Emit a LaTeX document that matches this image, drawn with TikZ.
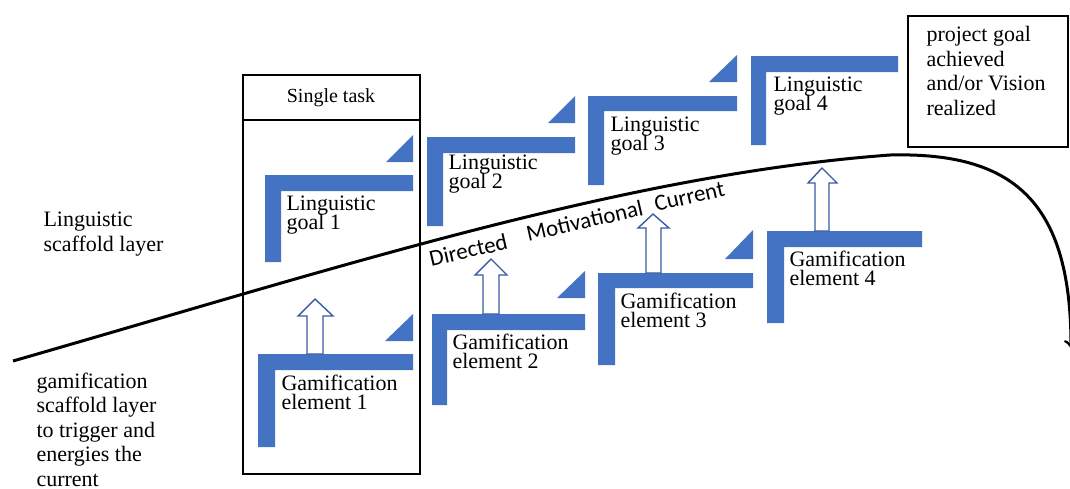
\documentclass[tikz,border=0pt]{standalone}
\usepackage{fontspec}
\setmainfont{Liberation Serif}
\newfontfamily\calibrifont{Carlito}
\newlength{\du}
\setlength{\du}{1\unitlength}
\newcommand{\tightfont}{\fontsize{11}{9.5}\selectfont\lineskiplimit=-10pt}
\newcommand{\loosefont}{\fontsize{11}{12.25}\selectfont\lineskiplimit=-10pt}
\definecolor{stairblue}{rgb}{0.27,0.45,0.77}
\definecolor{boostblue}{rgb}{0.22,0.36,0.64}

\begin{document}
\begin{tikzpicture}[scale=0.5,
  stairfill/.style={fill=stairblue},
  boost/.style={draw=boostblue, line width=0.7pt, fill=white, line join=miter},
  tag/.style={anchor=base west, inner sep=0pt, align=left, font=\tightfont},
  note/.style={anchor=base west, inner sep=0pt, align=left, font=\loosefont},
  current/.style={anchor=base west, inner sep=0pt, rotate=13, font=\calibrifont\fontsize{11.5}{13}\selectfont}]
\pgftransformxscale{1.000000}
\pgftransformyscale{-1.000000}
\useasboundingbox (0\du,0\du) rectangle (1070\du,488\du);
\definecolor{dialinecolor}{rgb}{0.000000, 0.000000, 0.000000}
\pgfsetstrokecolor{dialinecolor}
% single task frame
\draw[line width=0.75pt] (243\du,75\du) rectangle (420\du,474\du);
\draw[line width=1.3pt] (243\du,120\du)--(420\du,120\du);
\node[anchor=base] (task) at (331\du,102\du){Single task};
% vision frame
\draw[line width=0.75pt] (908\du,16\du) rectangle (1068\du,147\du);
% linguistic steps
\fill[stairfill] (265\du,175\du)--(413\du,175\du)--(413\du,191\du)--(281\du,191\du)--(281\du,262\du)--(265\du,262\du)--cycle;
\fill[stairfill] (386\du,162\du)--(413\du,162\du)--(413\du,135\du)--cycle;
\fill[stairfill] (427\du,137\du)--(575\du,137\du)--(575\du,153\du)--(443\du,153\du)--(443\du,226\du)--(427\du,226\du)--cycle;
\fill[stairfill] (548\du,123\du)--(575\du,123\du)--(575\du,96\du)--cycle;
\fill[stairfill] (588\du,96\du)--(737\du,96\du)--(737\du,111\du)--(604\du,111\du)--(604\du,185\du)--(588\du,185\du)--cycle;
\fill[stairfill] (709\du,82\du)--(737\du,82\du)--(737\du,55\du)--cycle;
\fill[stairfill] (751\du,56\du)--(898\du,56\du)--(898\du,72\du)--(766\du,72\du)--(766\du,145\du)--(751\du,145\du)--cycle;
% gamification steps
\fill[stairfill] (258\du,354\du)--(413\du,354\du)--(413\du,370\du)--(275\du,370\du)--(275\du,447\du)--(258\du,447\du)--cycle;
\fill[stairfill] (385\du,341\du)--(413\du,341\du)--(413\du,314\du)--cycle;
\fill[stairfill] (432\du,314\du)--(585\du,314\du)--(585\du,330\du)--(447\du,330\du)--(447\du,405\du)--(432\du,405\du)--cycle;
\fill[stairfill] (557\du,298\du)--(585\du,298\du)--(585\du,271\du)--cycle;
\fill[stairfill] (598\du,273\du)--(753\du,273\du)--(753\du,288\du)--(615\du,288\du)--(615\du,365\du)--(598\du,365\du)--cycle;
\fill[stairfill] (725\du,259\du)--(753\du,259\du)--(753\du,230\du)--cycle;
\fill[stairfill] (767\du,231\du)--(922\du,231\du)--(922\du,247\du)--(784\du,247\du)--(784\du,323\du)--(767\du,323\du)--cycle;
% hollow arrows
\filldraw[boost] (307\du,354\du)--(307\du,316\du)--(298\du,316\du)--(315\du,299\du)--(333\du,316\du)--(323\du,316\du)--(323\du,354\du)--cycle;
\filldraw[boost] (483\du,314\du)--(483\du,275\du)--(475\du,275\du)--(491\du,259\du)--(507\du,275\du)--(499\du,275\du)--(499\du,314\du)--cycle;
\filldraw[boost] (646\du,273\du)--(646\du,228\du)--(638\du,228\du)--(653\du,214\du)--(669\du,228\du)--(661\du,228\du)--(661\du,273\du)--cycle;
\filldraw[boost] (815\du,231\du)--(815\du,183\du)--(808\du,183\du)--(822\du,168\du)--(837\du,183\du)--(829\du,183\du)--(829\du,231\du)--cycle;
% the current
{
\pgfsetlinewidth{1.5\du}
\pgfsetarrowsend{to}
\pgfpathmoveto{\pgfpoint{13\du}{361\du}}
\pgfpathcurveto{\pgfpoint{330\du}{270\du}}{\pgfpoint{620\du}{175\du}}{\pgfpoint{890\du}{155\du}}
\pgfpathcurveto{\pgfpoint{1012\du}{152\du}}{\pgfpoint{1071\du}{200\du}}{\pgfpoint{1071\du}{348\du}}
\pgfusepath{stroke}
}
\node[current] (dir) at (430\du,267\du){Directed};
\node[current] (mot) at (527\du,242\du){Motivational};
\node[current] (cur) at (655\du,212\du){Current};
% labels (base = last line)
\node[tag] (lg1) at (285\du,229\du){Linguistic\\goal 1};
\node[tag] (lg2) at (447\du,188\du){Linguistic\\goal 2};
\node[tag] (lg3) at (609\du,150\du){Linguistic\\goal 3};
\node[tag] (lg4) at (772\du,110\du){Linguistic\\goal 4};
\node[tag] (ge1) at (280\du,409\du){Gamification\\element 1};
\node[tag] (ge2) at (451\du,368\du){Gamification\\element 2};
\node[tag] (ge3) at (619\du,327\du){Gamification\\element 3};
\node[tag] (ge4) at (788\du,285\du){Gamification\\element 4};
\node[note] (vision) at (925\du,115\du){project goal\\achieved\\and/or Vision\\realized};
\node[note] (linglayer) at (42\du,251\du){Linguistic\\scaffold layer};
\node[note] (gamlayer) at (35\du,486\du){gamification\\scaffold layer\\to trigger and\\energies the\\current};
\end{tikzpicture}
\end{document}
